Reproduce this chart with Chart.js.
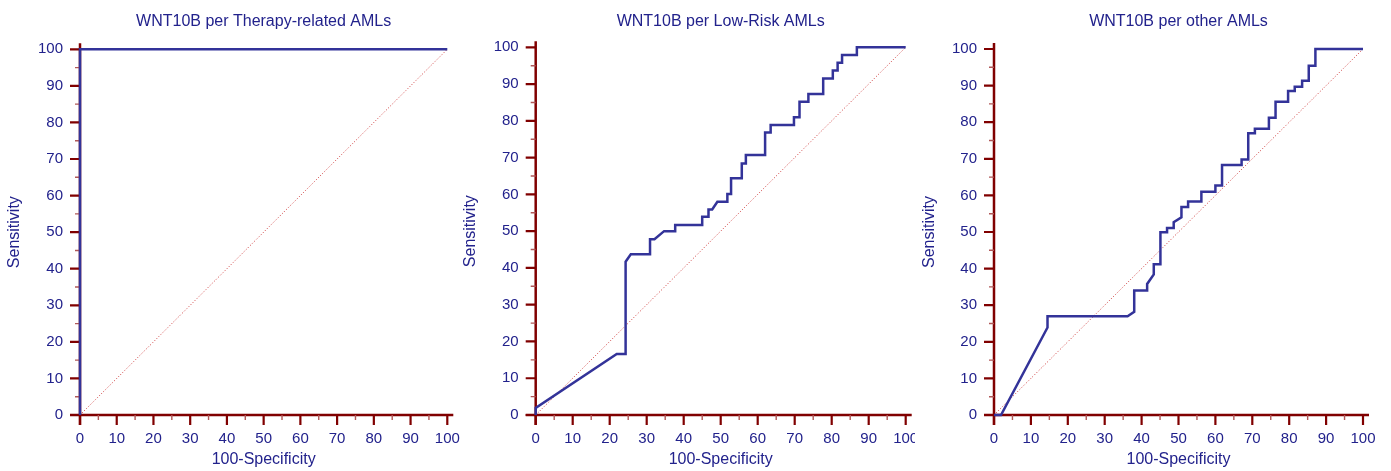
<!DOCTYPE html>
<html>
<head>
<meta charset="utf-8">
<script src="https://cdn.jsdelivr.net/npm/chart.js@4/dist/chart.umd.min.js"></script>
<style>
  html, body { margin: 0; padding: 0; background: #ffffff; }
  body { width: 1391px; height: 471px; position: relative; overflow: hidden; }
  canvas { position: absolute; top: 0; }
</style>
</head>
<body>
<canvas id="c1" width="460" height="471" style="left:0px"></canvas>
<canvas id="c2" width="455" height="471" style="left:460px"></canvas>
<canvas id="c3" width="476" height="471" style="left:915px"></canvas>
<script>
// ---- Data ----
const titles = ["WNT10B per Therapy-related AMLs", "WNT10B per Low-Risk AMLs", "WNT10B per other AMLs"];
const xAxisTitle = "100-Specificity";
const yAxisTitle = "Sensitivity";
const tickValues = [0, 10, 20, 30, 40, 50, 60, 70, 80, 90, 100];
const diagX = [0, 100];
const diagY = [0, 100];

// Panel 1: Therapy-related AMLs
const fpr1 = [0, 0, 100];
const tpr1 = [0, 100, 100];

// Panel 2: Low-Risk AMLs
const fpr2 = [0, 0, 21.9, 24.3, 24.3, 25.7, 30.9, 30.9, 32.1, 34.7, 37.7, 37.7, 45.0, 45.0, 46.7, 46.7,
  47.7, 49.1, 51.8, 51.8, 52.8, 52.8, 55.7, 55.7, 56.8, 56.8, 62.0, 62.0, 63.5, 63.5, 69.8, 69.8,
  71.3, 71.3, 73.7, 73.7, 77.7, 77.7, 80.3, 80.3, 81.6, 81.6, 82.8, 82.8, 86.8, 86.8, 100];
const tpr2 = [0, 1.9, 16.6, 16.6, 41.7, 43.7, 43.7, 47.8, 47.8, 50.0, 50.0, 51.7, 51.7, 53.9, 53.9, 55.9,
  55.9, 58.0, 58.0, 60.1, 60.1, 64.4, 64.4, 68.4, 68.4, 70.7, 70.7, 76.8, 76.8, 78.9, 78.9, 81.0,
  81.0, 85.2, 85.2, 87.3, 87.3, 91.5, 91.5, 93.7, 93.7, 95.8, 95.8, 97.9, 97.9, 100, 100];

// Panel 3: other AMLs
const fpr3 = [0, 1.9, 14.5, 14.5, 36.2, 38.0, 38.0, 41.5, 41.5, 43.3, 43.3, 45.1, 45.1, 46.9, 46.9, 48.7,
  48.7, 50.8, 50.8, 52.6, 52.6, 56.2, 56.2, 60.0, 60.0, 61.8, 61.8, 67.1, 67.1, 68.9, 68.9, 70.7,
  70.7, 74.5, 74.5, 76.3, 76.3, 79.7, 79.7, 81.5, 81.5, 83.5, 83.5, 85.3, 85.3, 87.1, 87.1, 100];
const tpr3 = [0, 0, 23.9, 27.0, 27.0, 28.2, 34.0, 34.0, 35.8, 38.4, 41.2, 41.2, 49.9, 49.9, 51.1, 51.1,
  52.7, 54.0, 56.8, 56.8, 58.3, 58.3, 61.0, 61.0, 62.7, 62.7, 68.3, 68.3, 69.8, 69.8, 77.0, 77.0,
  78.2, 78.2, 81.2, 81.2, 85.6, 85.6, 88.5, 88.5, 89.7, 89.7, 91.3, 91.3, 95.4, 95.4, 100, 100];

// ---- Styling ----
const TEXT = '#22228c';
const CURVE = '#333399';
const AXIS = '#800000';
const MINOR = '#b05858';
const DIAG = '#cc3333';
const FONT = "'Liberation Sans', Arial, sans-serif";

function pts(xs, ys) { return xs.map((x, i) => ({ x: x, y: ys[i] })); }

const axesPlugin = {
  id: 'rocAxes',
  beforeDatasetsDraw(chart) {
    const ctx = chart.ctx;
    const xs = chart.scales.x, ys = chart.scales.y;
    const a = chart.chartArea;
    ctx.save();
    ctx.strokeStyle = AXIS;
    ctx.lineCap = 'butt';
    ctx.lineWidth = 2.5;
    ctx.beginPath();
    ctx.moveTo(a.left - 10, a.bottom);
    ctx.lineTo(a.right + 6, a.bottom);
    ctx.moveTo(a.left, a.bottom + 10);
    ctx.lineTo(a.left, a.top - 6);
    ctx.stroke();
    for (let v = 0; v <= 100; v += 5) {
      const major = v % 10 === 0;
      const len = major ? 10 : 5;
      ctx.lineWidth = major ? 2.2 : 1.4;
      ctx.strokeStyle = major ? AXIS : MINOR;
      const px = xs.getPixelForValue(v);
      const py = ys.getPixelForValue(v);
      ctx.beginPath();
      ctx.moveTo(px, a.bottom);
      ctx.lineTo(px, a.bottom + len);
      ctx.moveTo(a.left - len, py);
      ctx.lineTo(a.left, py);
      ctx.stroke();
    }
    ctx.restore();
  }
};

function makeChart(id, title, fx, ty, geo) {
  const ctx = document.getElementById(id).getContext('2d');
  return new Chart(ctx, {
    type: 'scatter',
    data: {
      datasets: [
        { data: pts(fx, ty), showLine: true, borderColor: CURVE, borderWidth: 2.5, pointRadius: 0,
          fill: false, tension: 0, clip: false, order: 0 },
        { data: pts(diagX, diagY), showLine: true, borderColor: DIAG, borderWidth: 1, borderDash: [1, 2],
          pointRadius: 0, fill: false, tension: 0, clip: false, order: 1 }
      ]
    },
    options: {
      responsive: false,
      animation: false,
      devicePixelRatio: 1,
      layout: { padding: { left: 0, right: geo.right, top: 0, bottom: 0 } },
      plugins: {
        legend: { display: false },
        tooltip: { enabled: false },
        title: {
          display: true, text: title, fullSize: false, color: TEXT,
          font: { family: FONT, size: 16, weight: 'normal' },
          padding: { top: 11.5, bottom: geo.titleBottom }
        }
      },
      scales: {
        x: {
          type: 'linear', min: 0, max: 100,
          afterBuildTicks: (s) => { s.ticks = tickValues.map(v => ({ value: v })); },
          afterFit: (s) => { s.height = 471 - geo.bottom; s.paddingLeft = 0; s.paddingRight = 0; },
          grid: { display: false, drawTicks: false },
          border: { display: false },
          ticks: { color: TEXT, font: { family: FONT, size: 15 }, padding: 14.5, maxRotation: 0, autoSkip: false },
          title: { display: true, text: xAxisTitle, color: TEXT, font: { family: FONT, size: 16 },
                   padding: { top: 0, bottom: 1.4 } }
        },
        y: {
          type: 'linear', min: 0, max: 100,
          afterBuildTicks: (s) => { s.ticks = tickValues.map(v => ({ value: v })); },
          afterFit: (s) => { s.width = geo.left; s.paddingTop = 0; s.paddingBottom = 0; },
          grid: { display: false, drawTicks: false },
          border: { display: false },
          ticks: { color: TEXT, font: { family: FONT, size: 15 }, padding: 17, autoSkip: false },
          title: { display: true, text: yAxisTitle, color: TEXT, font: { family: FONT, size: 16 },
                   padding: { top: geo.yTitlePad, bottom: 0 } }
        }
      }
    },
    plugins: [axesPlugin]
  });
}

makeChart('c1', titles[0], fpr1, tpr1, { left: 80, right: 12.7, bottom: 415, titleBottom: 18.6, yTitlePad: 5.4 });
makeChart('c2', titles[1], fpr2, tpr2, { left: 75.7, right: 9.3, bottom: 415, titleBottom: 16.6, yTitlePad: 1.4 });
makeChart('c3', titles[2], fpr3, tpr3, { left: 79, right: 28, bottom: 415, titleBottom: 18.3, yTitlePad: 5.4 });
</script>
</body>
</html>
